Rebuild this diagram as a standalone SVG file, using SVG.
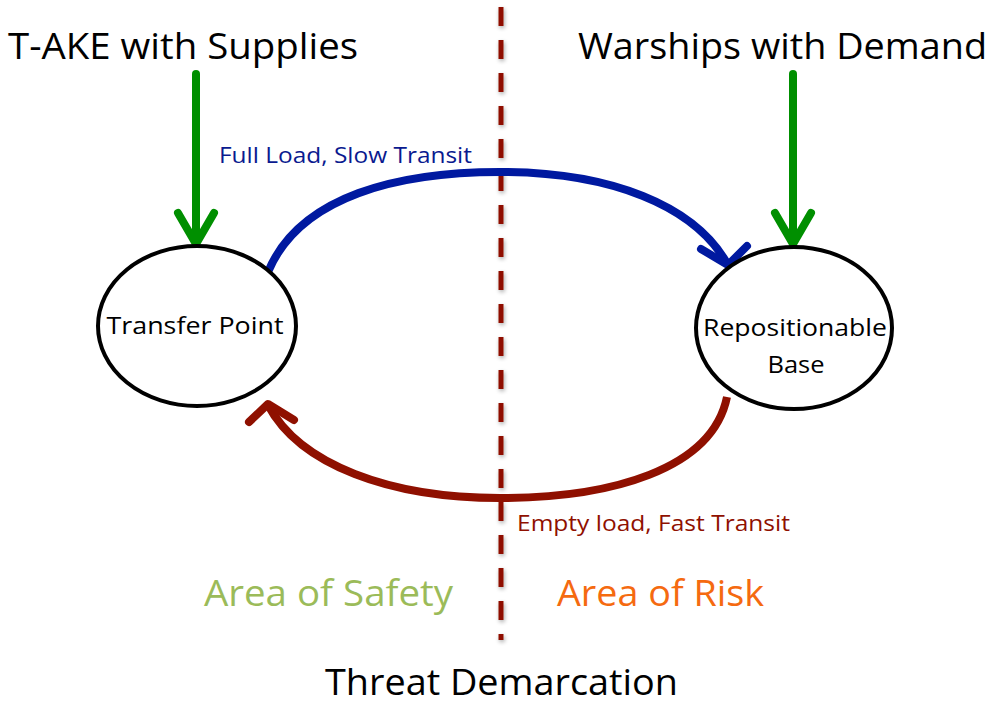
<svg xmlns="http://www.w3.org/2000/svg" width="991" height="702" viewBox="0 0 991 702">
<defs>
<style>
text{font-family:"Open Sans","Liberation Sans",sans-serif}
.big{font-size:36px;fill:#000}
.node{fill:#fff;stroke:#000;stroke-width:4}
.lbl{font-size:24px;fill:#000}
.green{fill:none;stroke:#008f00;stroke-width:8;stroke-linecap:round;stroke-linejoin:round}
.blue{fill:none;stroke:#0019a0;stroke-width:8;stroke-linecap:butt;stroke-linejoin:round}
.red{fill:none;stroke:#8f1000;stroke-width:8;stroke-linecap:butt;stroke-linejoin:round}
.head{stroke-linecap:round}
</style>
<filter id="sh" filterUnits="userSpaceOnUse" x="480" y="0" width="45" height="660"><feGaussianBlur in="SourceAlpha" stdDeviation="2"/><feOffset dx="1" dy="2"/><feComponentTransfer><feFuncA type="linear" slope="0.35"/></feComponentTransfer><feMerge><feMergeNode/><feMergeNode in="SourceGraphic"/></feMerge></filter>
</defs>
<rect width="991" height="702" fill="#fff"/>
<g id="demarcation">
<line x1="501" y1="7" x2="501" y2="640" stroke="#8f1000" stroke-width="5" stroke-dasharray="19 14" filter="url(#sh)"/>
</g>
<g id="connectors">
<path class="green" d="M196,74 V244"/>
<path class="green" d="M178,213 L196,244 L214,213"/>
<path class="green" d="M793,74 V244"/>
<path class="green" d="M775,213 L793,244 L811,213"/>
<path class="blue" d="M268,272 C300,195 400,172 500,172 C610,172 695,205 728,265"/>
<path class="blue head" d="M701,249 L728,265 L747,246"/>
<path class="red" d="M727,397 C712,470 610,498 500,498 C390,498 300,465 268,405"/>
<path class="red head" d="M249,422 L268,404 L294,420"/>
</g>
<g id="transfer-point">
<ellipse class="node" cx="197" cy="326" rx="99" ry="80"/>
<text class="lbl" x="195" y="334" text-anchor="middle" textLength="177" lengthAdjust="spacingAndGlyphs">Transfer Point</text>
</g>
<g id="repositionable-base">
<ellipse class="node" cx="794" cy="328" rx="98" ry="81"/>
<text class="lbl" x="795" y="336" text-anchor="middle" textLength="184" lengthAdjust="spacingAndGlyphs">Repositionable</text>
<text class="lbl" x="796" y="373" text-anchor="middle" textLength="57" lengthAdjust="spacingAndGlyphs">Base</text>
</g>
<g id="labels">
<text class="big" x="8" y="59" textLength="350" lengthAdjust="spacingAndGlyphs">T-AKE with Supplies</text>
<text class="big" x="578" y="59" textLength="409" lengthAdjust="spacingAndGlyphs">Warships with Demand</text>
<text x="219" y="163" font-size="21" fill="#0a1a8f" textLength="253" lengthAdjust="spacingAndGlyphs">Full Load, Slow Transit</text>
<text x="517" y="531" font-size="21" fill="#8f1000" textLength="273" lengthAdjust="spacingAndGlyphs">Empty load, Fast Transit</text>
<text x="204" y="606" font-size="36" fill="#9bbb59" textLength="249" lengthAdjust="spacingAndGlyphs">Area of Safety</text>
<text x="557" y="606" font-size="36" fill="#f56a10" textLength="207" lengthAdjust="spacingAndGlyphs">Area of Risk</text>
<text x="325" y="695" font-size="37" fill="#000" textLength="353" lengthAdjust="spacingAndGlyphs">Threat Demarcation</text>
</g>
</svg>
